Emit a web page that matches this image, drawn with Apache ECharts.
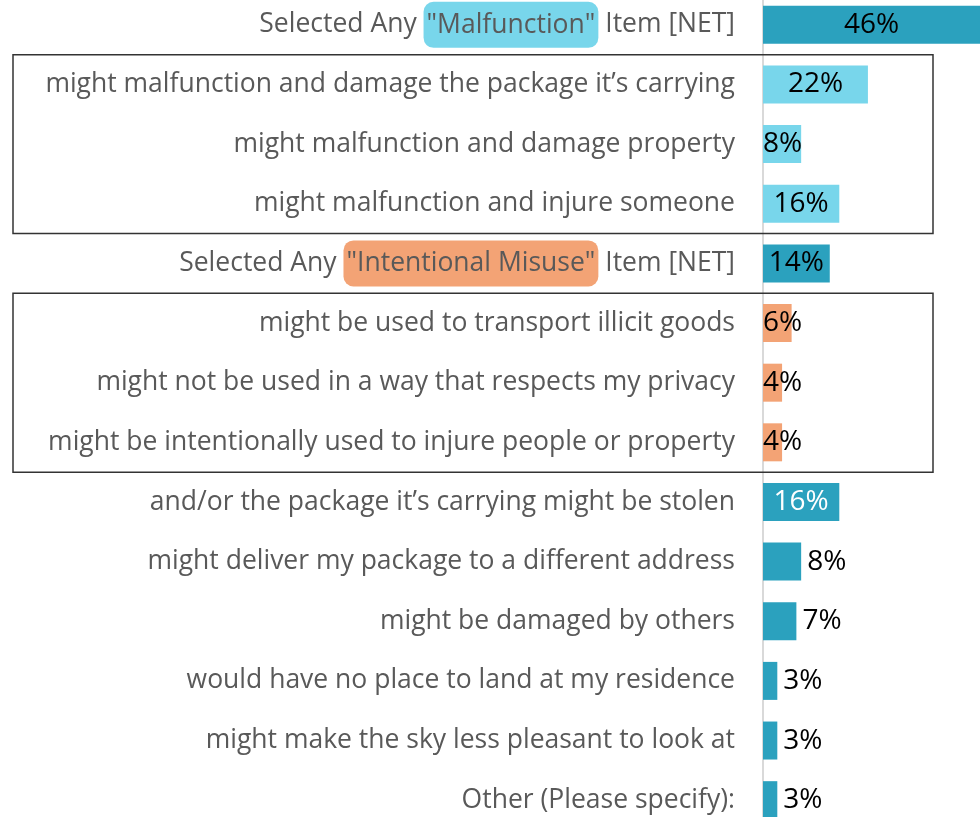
<!DOCTYPE html>
<html>
<head>
<meta charset="utf-8">
<script src="https://cdn.jsdelivr.net/npm/echarts@6/dist/echarts.min.js"></script>
<style>
  html, body { margin: 0; padding: 0; background: #fff; }
  #chart { width: 980px; height: 817px; }
</style>
</head>
<body>
<div id="chart"></div>
<script>
// Survey concerns about delivery drones, share of respondents
const categories = [
  'Selected Any "Malfunction" Item [NET]',
  'might malfunction and damage the package it\u2019s carrying',
  'might malfunction and damage property',
  'might malfunction and injure someone',
  'Selected Any "Intentional Misuse" Item [NET]',
  'might be used to transport illicit goods',
  'might not be used in a way that respects my privacy',
  'might be intentionally used to injure people or property',
  'and/or the package it\u2019s carrying might be stolen',
  'might deliver my package to a different address',
  'might be damaged by others',
  'would have no place to land at my residence',
  'might make the sky less pleasant to look at',
  'Other (Please specify):'
];
const values = [46, 22, 8, 16, 14, 6, 4, 4, 16, 8, 7, 3, 3, 3];
// which block each row belongs to
const groups = ['net', 'mal', 'mal', 'mal', 'net', 'mis', 'mis', 'mis',
                'other', 'other', 'other', 'other', 'other', 'other'];
// rows framed by an outline box (first and last index)
const framedRanges = [[1, 3], [5, 7]];

const FONT = '"Open Sans"';
const TEAL = '#2BA1BE';
const LIGHT = '#78D6EB';
const ORANGE = '#F3A375';
const groupColor = { net: TEAL, mal: LIGHT, mis: ORANGE, other: TEAL };

const W = 980, H = 817;
const gridLeft = 763;
const xMax = 45.5;
const gridTop = -5, gridBottom = -13;
const pxPerUnit = (W - gridLeft) / xMax;

// text measurement for label placement and fitting
const ctx = document.createElement('canvas').getContext('2d');
function textWidth(str, size) {
  ctx.font = size + 'px ' + FONT;
  return ctx.measureText(str).width;
}

// fit the category labels so the longest line spans the left area
const labelAreaWidth = 720;
let widest = 0;
categories.forEach(c => { widest = Math.max(widest, textWidth(c, 24)); });
const catFont = Math.min(26.5, 24 * labelAreaWidth / widest);
const valFont = 28;

const seriesData = values.map((v, i) => {
  const g = groups[i];
  const txt = v + '%';
  const barPx = v * pxPerUnit;
  const tw = textWidth(txt, valFont);
  let label;
  if (g === 'other') {
    if (barPx > tw + 8) {
      label = { position: 'inside', color: '#FFFFFF' };
    } else {
      label = { position: 'right', distance: 6, color: '#000000' };
    }
  } else {
    if (barPx > tw) {
      label = { position: 'inside', color: '#000000' };
    } else {
      label = { position: 'insideLeft', offset: [-5, 0], color: '#000000' };
    }
  }
  return { value: v, itemStyle: { color: groupColor[g] }, label: label };
});

const chart = echarts.init(document.getElementById('chart'), null, { renderer: 'canvas' });

chart.setOption({
  animation: false,
  backgroundColor: '#FFFFFF',
  grid: {
    left: gridLeft, right: 0, top: gridTop, bottom: gridBottom,
    containLabel: false, outerBoundsMode: 'none'
  },
  xAxis: {
    type: 'value',
    min: 0,
    max: xMax,
    show: false
  },
  yAxis: {
    type: 'category',
    inverse: true,
    data: categories,
    axisLine: { show: true, lineStyle: { color: '#D9D9D9', width: 2 } },
    axisTick: { show: false },
    axisLabel: {
      margin: 28,
      fontFamily: FONT,
      fontSize: catFont,
      color: '#595959',
      formatter: function (val) {
        const m = val.match(/^(.*?)("[^"]+")(.*)$/);
        if (!m) return '{t|' + val + '}';
        const key = m[2].indexOf('Malfunction') >= 0 ? 'hm' : 'hi';
        return '{t|' + m[1] + '}{' + key + '|' + m[2] + '}{t|' + m[3] + '}';
      },
      rich: {
        t: { fontFamily: FONT, fontSize: catFont, color: '#595959' },
        hm: {
          fontFamily: FONT, fontSize: catFont, color: '#595959',
          backgroundColor: LIGHT, borderRadius: 10, padding: [10, 3, 9, 3]
        },
        hi: {
          fontFamily: FONT, fontSize: catFont, color: '#595959',
          backgroundColor: ORANGE, borderRadius: 10, padding: [10, 3, 9, 3]
        }
      }
    }
  },
  series: [{
    type: 'bar',
    data: seriesData,
    barWidth: 38,
    label: {
      show: true,
      formatter: '{c}%',
      fontFamily: FONT,
      fontSize: valFont
    }
  }]
});

// outline boxes around the sub-item blocks
function drawFrames() {
  const axis = chart.getModel().getComponent('yAxis', 0).axis;
  const band = Math.abs(axis.getBandWidth());
  const elements = framedRanges.map(([a, b]) => {
    const yA = chart.convertToPixel({ yAxisIndex: 0 }, categories[a]);
    const yB = chart.convertToPixel({ yAxisIndex: 0 }, categories[b]);
    const top = yA - band / 2;
    const bottom = yB + band / 2;
    return {
      type: 'rect',
      z: 100,
      silent: true,
      shape: { x: 13, y: top, width: 933 - 13, height: bottom - top },
      style: { fill: 'none', stroke: '#333333', lineWidth: 1.5 }
    };
  });
  chart.setOption({ graphic: elements });
}
drawFrames();
</script>
</body>
</html>
